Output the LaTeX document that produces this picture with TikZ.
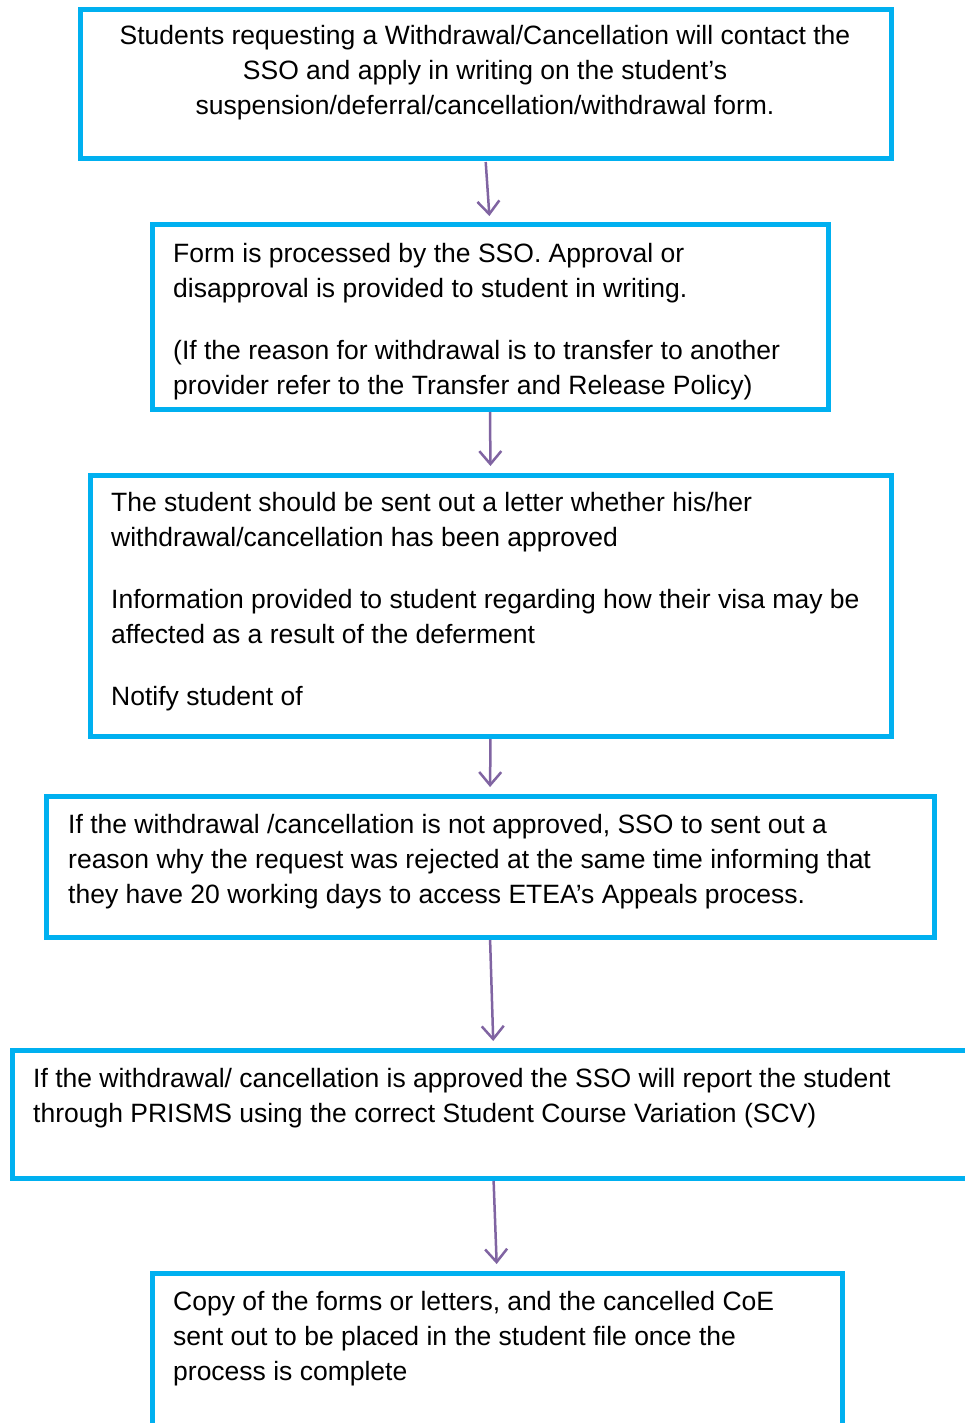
\documentclass[tikz,border=0pt]{standalone}
\usepackage{fontspec}
\setmainfont{Liberation Sans}
\usetikzlibrary{arrows.meta}
\definecolor{boxblue}{RGB}{0,176,240}
\definecolor{arrowpurple}{RGB}{128,100,162}
\begin{document}
\begin{tikzpicture}[x=1pt,y=-1pt,
  box/.style={draw=boxblue, line width=5pt, inner sep=0pt, outer sep=0pt, rectangle, anchor=north west},
  txt/.style={font=\fontsize{26.5}{35}\selectfont, inner sep=0pt, align=left, anchor=base west},
  ctxt/.style={font=\fontsize{26.5}{35}\selectfont, inner sep=0pt, align=center, anchor=base},
  conn/.style={draw=arrowpurple, line width=2.5pt, -{Straight Barb[length=13pt,width=22pt]}, shorten <=3pt, shorten >=9pt}]
\useasboundingbox (0,0) rectangle (965,1423);
\clip (0,0) rectangle (965,1423);
\fill[white] (0,0) rectangle (965,1423);
% boxes
\node[box, minimum width=811pt, minimum height=149pt] (b1) at (80,10) {};
\node[box, minimum width=676pt, minimum height=184pt] (b2) at (152,225) {};
\node[box, minimum width=801pt, minimum height=261pt] (b3) at (90,475) {};
\node[box, minimum width=888pt, minimum height=141pt] (b4) at (46,796) {};
\node[box, minimum width=963pt, minimum height=128pt] (b5) at (12,1050) {};
\node[box, minimum width=690pt, minimum height=200pt] (b6) at (152,1273) {};
% texts (anchor = baseline of last line)
\node[ctxt] (t1) at (485,115) {Students requesting a Withdrawal/Cancellation will contact the\\SSO and apply in writing on the student’s\\suspension/deferral/cancellation/withdrawal form.};
\node[txt] (t2) at (173,394) {Form is processed by the SSO. Approval or\\disapproval is provided to student in writing.\\[27pt](If the reason for withdrawal is to transfer to another\\provider refer to the Transfer and Release Policy)};
\node[txt] (t3) at (111,705) {The student should be sent out a letter whether his/her\\withdrawal/cancellation has been approved\\[27pt]Information provided to student regarding how their visa may be\\affected as a result of the deferment\\[27pt]Notify student of};
\node[txt] (t4) at (68,903) {If the withdrawal /cancellation is not approved, SSO to sent out a\\reason why the request was rejected at the same time informing that\\they have 20 working days to access ETEA’s Appeals process.};
\node[txt] (t5) at (33,1122) {If the withdrawal/ cancellation is approved the SSO will report the student\\through PRISMS using the correct Student Course Variation (SCV)};
\node[txt] (t6) at (173,1380) {Copy of the forms or letters, and the cancelled CoE\\sent out to be placed in the student file once the\\process is complete};
% connectors
\draw[conn] (b1.south) -- (b2.north);
\draw[conn] (b2.south) -- (b3.north);
\draw[conn] (b3.south) -- (b4.north);
\draw[conn] (b4.south) -- (b5.north);
\draw[conn] (b5.south) -- (b6.north);
\end{tikzpicture}
\end{document}
